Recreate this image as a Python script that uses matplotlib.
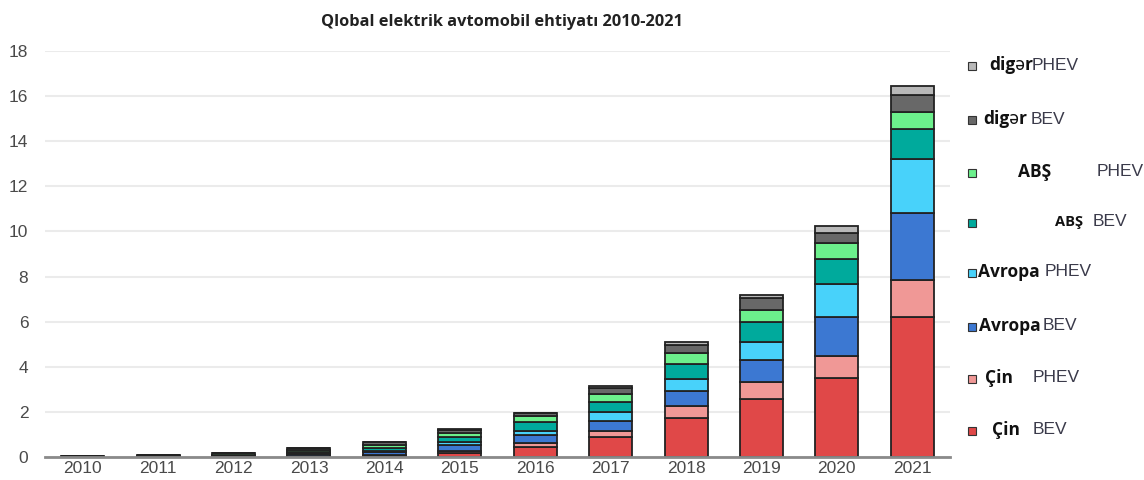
import matplotlib.pyplot as plt
from matplotlib.patches import Rectangle

W, H = 1144, 480

years = ['2010', '2011', '2012', '2013', '2014', '2015', '2016',
         '2017', '2018', '2019', '2020', '2021']

# stock in millions, bottom to top of each bar
cin_bev = [0.01, 0.02, 0.03, 0.03, 0.06, 0.19, 0.43, 0.90, 1.74, 2.57, 3.49, 6.19]
cin_phev = [0.00, 0.00, 0.00, 0.01, 0.03, 0.08, 0.18, 0.27, 0.53, 0.77, 0.97, 1.66]
avropa_bev = [0.01, 0.02, 0.03, 0.08, 0.15, 0.26, 0.37, 0.44, 0.66, 0.96, 1.73, 2.98]
avropa_phev = [0.00, 0.01, 0.02, 0.04, 0.04, 0.15, 0.19, 0.40, 0.53, 0.78, 1.46, 2.37]
abs_bev = [0.01, 0.02, 0.03, 0.08, 0.11, 0.22, 0.40, 0.44, 0.66, 0.92, 1.11, 1.34]
abs_phev = [0.00, 0.02, 0.05, 0.07, 0.14, 0.18, 0.25, 0.33, 0.48, 0.52, 0.71, 0.77]
diger_bev = [0.02, 0.02, 0.02, 0.08, 0.12, 0.11, 0.11, 0.29, 0.36, 0.51, 0.44, 0.76]
diger_phev = [0.00, 0.00, 0.00, 0.02, 0.03, 0.04, 0.04, 0.08, 0.14, 0.15, 0.34, 0.39]

series = [cin_bev, cin_phev, avropa_bev, avropa_phev,
          abs_bev, abs_phev, diger_bev, diger_phev]
colors = ['#e04848', '#f09896', '#3c78d2', '#48d2fa',
          '#00aa9c', '#6cf08c', '#686868', '#b8b8b8']

bold_font = ['Open Sans', 'Noto Sans', 'DejaVu Sans']

fig = plt.figure(figsize=(W / 100, H / 100), dpi=100)
ax = fig.add_axes([45 / W, 1 - 457 / H, 905 / W, 406 / H])

x = range(len(years))
bottom = [0.0] * len(years)
for vals, col in zip(series, colors):
    ax.bar(x, vals, width=0.57, bottom=bottom, color=col,
           edgecolor='#222222', linewidth=1.3, zorder=3)
    bottom = [b + v for b, v in zip(bottom, vals)]

ax.set_xlim(-0.5, len(years) - 0.5)
ax.set_ylim(0, 18)
ax.set_yticks(range(0, 19, 2))
ax.set_xticks(list(x))
ax.set_xticklabels(years)
ax.yaxis.grid(True, color='#ebebeb', linewidth=1.5, zorder=0)
ax.set_axisbelow(True)
for side in ['top', 'right', 'left']:
    ax.spines[side].set_visible(False)
ax.spines['bottom'].set_color('#8a8a8a')
ax.spines['bottom'].set_linewidth(2)
ax.spines['bottom'].set_zorder(4)
ax.tick_params(length=0, labelsize=12.5, labelcolor='#4a4a4a')
ax.tick_params(axis='y', pad=12)
ax.tick_params(axis='x', pad=3)
for lab in ax.get_xticklabels() + ax.get_yticklabels():
    lab.set_family('Liberation Sans')

fig.text(502 / W, 1 - 22 / H, 'Qlobal elektrik avtomobil ehtiyatı 2010-2021',
         ha='center', va='center', fontsize=11.8, fontweight='bold',
         family=bold_font, color='#222222')

# hand-placed legend: marker square, bold region, regular type
legend_rows = [
    # y, region, region x, type, type x, colour, region size
    (65, 'digər', 989, 'PHEV', 1032, colors[7], 12.5),
    (119, 'digər', 983, 'BEV', 1031, colors[6], 12.5),
    (172, 'ABŞ', 1018, 'PHEV', 1097, colors[5], 12.5),
    (222, 'ABŞ', 1055, 'BEV', 1093, colors[4], 10.5),
    (272, 'Avropa', 978, 'PHEV', 1045, colors[3], 12.5),
    (326, 'Avropa', 979, 'BEV', 1043, colors[2], 12.5),
    (378, 'Çin', 985, 'PHEV', 1033, colors[1], 12.5),
    (430, 'Çin', 992, 'BEV', 1033, colors[0], 12.5),
]
for y, region, rx, kind, kx, col, rsize in legend_rows:
    fig.patches.append(Rectangle((968 / W, 1 - (y + 5) / H), 8 / W, 8 / H,
                                 transform=fig.transFigure, facecolor=col,
                                 edgecolor='#333333', linewidth=0.8))
    fig.text(rx / W, 1 - y / H, region, ha='left', va='center',
             fontsize=rsize, fontweight='bold', family=bold_font,
             color='#111111')
    fig.text(kx / W, 1 - y / H, kind, ha='left', va='center',
             fontsize=12.5, family='Liberation Sans', color='#3a3a4a')

fig.savefig('out.png', dpi=100)
